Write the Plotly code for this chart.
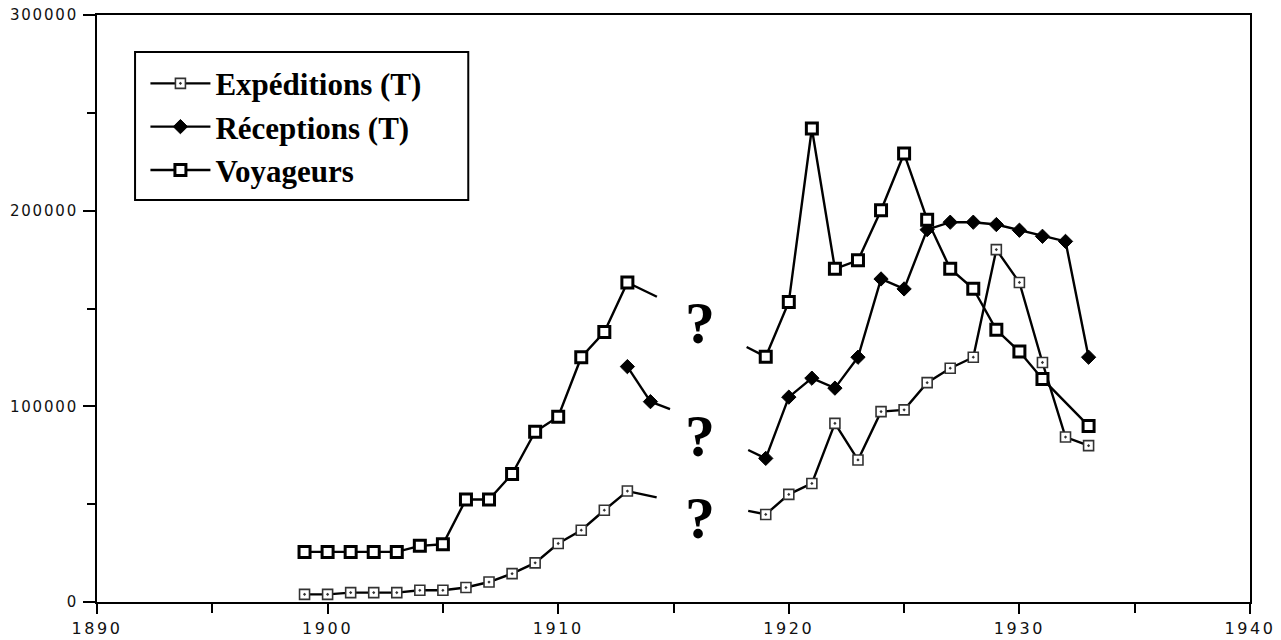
import plotly.graph_objects as go

# ---- data ----
years_pre = list(range(1899, 1914))
exp_pre = [3900, 3900, 4800, 4800, 4800, 6000, 6000, 7400, 10200, 14500, 20000, 29900, 36700, 46900, 56700]
voy_pre = [25600, 25600, 25600, 25600, 25600, 28700, 29500, 52400, 52400, 65400, 87000, 94700, 125100, 138000, 163300]
rec_pre_years = [1913, 1914]
rec_pre = [120300, 102400]

years_post = list(range(1919, 1934))
exp_post = [44750, 55000, 60600, 91300, 72600, 97300, 98200, 112100, 119500, 125100, 180100, 163300, 122400, 84300, 79900]
rec_post = [73400, 104700, 114400, 109300, 125100, 165100, 160000, 190300, 194100, 194100, 192900, 190000, 186900, 184300, 125100]
voy_post_years = [1919, 1920, 1921, 1922, 1923, 1924, 1925, 1926, 1927, 1928, 1929, 1930, 1931, 1933]
voy_post = [125300, 153300, 242000, 170300, 174600, 200200, 229200, 195400, 170300, 160100, 139100, 128000, 114000, 90000]

# short line stubs drawn into the war gap
exp_stub_pre_x, exp_stub_pre_y = [1913, 1914.27], [56700, 53500]
exp_stub_post_x, exp_stub_post_y = [1918.24, 1919], [46600, 44750]
rec_stub_pre_x, rec_stub_pre_y = [1914, 1914.85], [102400, 98600]
rec_stub_post_x, rec_stub_post_y = [1918.24, 1919], [77700, 73400]
voy_stub_pre_x, voy_stub_pre_y = [1913, 1914.28], [163300, 156000]
voy_stub_post_x, voy_stub_post_y = [1918.17, 1919], [130300, 125300]

qm_x = [1916.15, 1916.15, 1916.15]
qm_y = [142500, 84800, 42700]

series_names = ["Expéditions (T)", "Réceptions (T)", "Voyageurs"]

# ---- styles ----
LINE = dict(color="black", width=2.4)
exp_marker = dict(symbol="square-dot", size=10, color="white", line=dict(color="#333333", width=1.6))
rec_marker = dict(symbol="diamond", size=11, color="black", line=dict(color="black", width=1))
voy_marker = dict(symbol="square", size=11, color="white", line=dict(color="black", width=3))

fig = go.Figure()

def add_series(name, group, xs, ys, marker, show):
    fig.add_trace(go.Scatter(x=xs, y=ys, mode="lines+markers", name=name, legendgroup=group,
                             showlegend=show, line=LINE, marker=marker))

def add_stub(group, xs, ys):
    fig.add_trace(go.Scatter(x=xs, y=ys, mode="lines", legendgroup=group, showlegend=False,
                             line=LINE, hoverinfo="skip"))

# stubs first (below markers)
add_stub("exp", exp_stub_pre_x, exp_stub_pre_y)
add_stub("exp", exp_stub_post_x, exp_stub_post_y)
add_stub("rec", rec_stub_pre_x, rec_stub_pre_y)
add_stub("rec", rec_stub_post_x, rec_stub_post_y)
add_stub("voy", voy_stub_pre_x, voy_stub_pre_y)
add_stub("voy", voy_stub_post_x, voy_stub_post_y)

add_series(series_names[0], "exp", years_pre, exp_pre, exp_marker, True)
add_series(series_names[0], "exp", years_post, exp_post, exp_marker, False)
add_series(series_names[1], "rec", rec_pre_years, rec_pre, rec_marker, True)
add_series(series_names[1], "rec", years_post, rec_post, rec_marker, False)
add_series(series_names[2], "voy", years_pre, voy_pre, voy_marker, True)
add_series(series_names[2], "voy", voy_post_years, voy_post, voy_marker, False)

for qx, qy in zip(qm_x, qm_y):
    fig.add_annotation(x=qx, y=qy, text="?", showarrow=False, xanchor="center", yanchor="middle",
                       font=dict(family="Liberation Serif", size=60, color="black", weight="bold"))

# legend frame
fig.add_shape(type="rect", xref="paper", yref="paper", x0=0.033, x1=0.322, y0=0.685, y1=0.937,
              line=dict(color="black", width=2), fillcolor="white", layer="below")

fig.update_layout(
    width=1281, height=640,
    margin=dict(l=97, r=31, t=15, b=38, pad=0),
    paper_bgcolor="white", plot_bgcolor="white",
    showlegend=True,
    legend=dict(x=0.042, y=0.929, xanchor="left", yanchor="top",
                bgcolor="rgba(0,0,0,0)", borderwidth=0,
                font=dict(family="Liberation Serif", size=31, color="black", weight="bold"),
                traceorder="grouped", tracegroupgap=0, itemwidth=60),
    xaxis=dict(range=[1890, 1940], dtick=10, tick0=1890, showgrid=False, zeroline=False,
               showline=True, linecolor="black", linewidth=2, mirror=True, automargin=False,
               ticks="outside", ticklen=10, tickwidth=2, tickcolor="black",
               minor=dict(dtick=5, ticks="outside", ticklen=9, tickwidth=2, tickcolor="black", showgrid=False),
               ticklabelstandoff=1,
               tickfont=dict(family="DejaVu Sans", size=16, color="#111111")),
    yaxis=dict(range=[0, 300000], dtick=100000, showgrid=False, zeroline=False,
               showline=True, linecolor="black", linewidth=2, mirror=True, automargin=False,
               ticks="outside", ticklen=12, tickwidth=2, tickcolor="black",
               minor=dict(dtick=50000, ticks="outside", ticklen=8, tickwidth=2, tickcolor="black", showgrid=False),
               tickformat="d", ticklabelstandoff=2,
               tickfont=dict(family="DejaVu Sans", size=15, color="#111111")),
)

post = ("document.body.style.margin='0';"
        "var s=document.createElement('style');"
        "s.textContent='body{margin:0}.xtick text{letter-spacing:2.6px}.ytick text{letter-spacing:1.8px}';"
        "document.head.appendChild(s);")
fig.write_html("out.html", post_script=post, config={"displayModeBar": False})
